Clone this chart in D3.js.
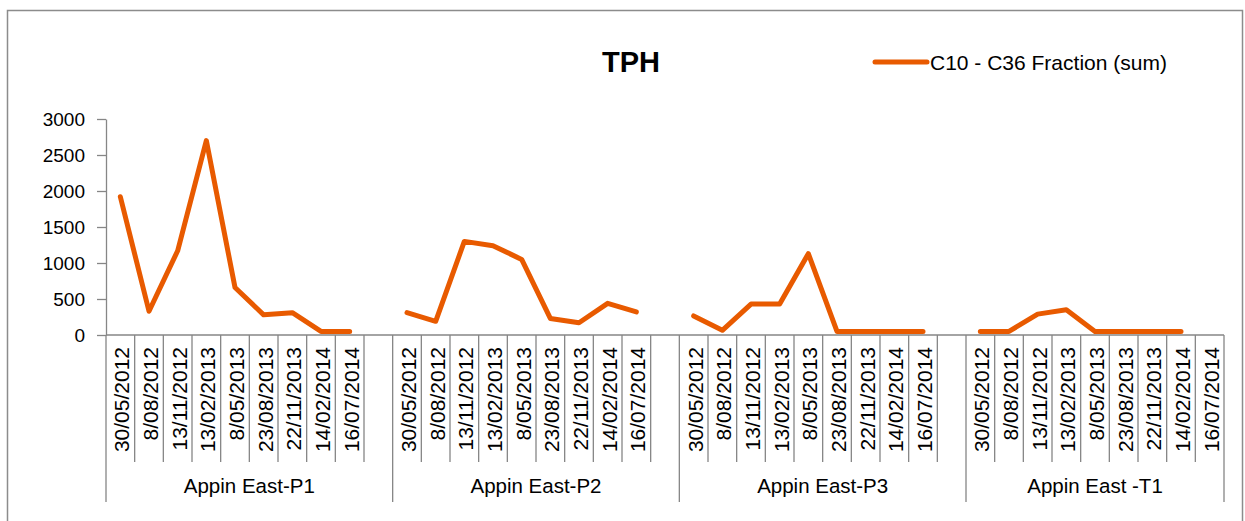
<!DOCTYPE html>
<html>
<head>
<meta charset="utf-8">
<script src="https://cdn.jsdelivr.net/npm/d3@7"></script>
<style>
  body { margin: 0; background: #fff; }
  svg { display: block; font-family: Arial, "Liberation Sans", sans-serif; }
</style>
</head>
<body>
<svg id="chart" width="1245" height="521"></svg>
<script>
// data
const dates = ["30/05/2012", "8/08/2012", "13/11/2012", "13/02/2013", "8/05/2013",
  "23/08/2013", "22/11/2013", "14/02/2014", "16/07/2014"];
const groups = ["Appin East-P1", "Appin East-P2", "Appin East-P3", "Appin East -T1"];
const p1Values = [1920, 330, 1170, 2700, 660, 280, 310, 50, 50];
const p2Values = [310, 190, 1300, 1240, 1050, 230, 170, 440, 320];
const p3Values = [265, 65, 430, 430, 1130, 50, 50, 50, 50];
const t1Values = [50, 50, 290, 350, 50, 50, 50, 50, null];
const yTicks = [0, 500, 1000, 1500, 2000, 2500, 3000];
const seriesName = "C10 - C36 Fraction (sum)";
const groupValues = [p1Values, p2Values, p3Values, t1Values];

const svg = d3.select("#chart");
const orange = "#e85a00";
const grey = "#868686";

// outer chart border
svg.append("rect")
  .attr("x", 7.5).attr("y", 10.5)
  .attr("width", 1235).attr("height", 530)
  .attr("fill", "none").attr("stroke", "#8c8c8c").attr("stroke-width", 1.5);

// category slots: 9 dates per group, a blank slot between groups
let slots = [];
groups.forEach((g, gi) => {
  dates.forEach(d => slots.push(g + "|" + d));
  if (gi < groups.length - 1) slots.push(g + "|blank");
});

const x = d3.scaleBand().domain(slots).range([106, 1224]).padding(0);
const y = d3.scaleLinear().domain([0, 3000]).range([335, 119]);

// y axis
const yAxis = svg.append("g")
  .attr("transform", "translate(106,0)")
  .call(d3.axisLeft(y).tickValues(yTicks).tickFormat(d3.format("d"))
    .tickSize(9).tickPadding(12).tickSizeOuter(0));
yAxis.select(".domain").attr("stroke", grey).attr("stroke-width", 1.3);
yAxis.selectAll(".tick line").attr("stroke", grey).attr("stroke-width", 1.3);
yAxis.selectAll(".tick text")
  .attr("font-size", 19).attr("fill", "#000")
  .attr("font-family", "Arial, 'Liberation Sans', sans-serif");

// x axis line
svg.append("line")
  .attr("x1", 106).attr("x2", 1224).attr("y1", 335).attr("y2", 335)
  .attr("stroke", grey).attr("stroke-width", 1.3);

// tick lines between slots, longer ones at group edges
const boundaries = slots.map(s => x(s)).concat([x.range()[1]]);
const groupEdges = groups.map(g => x(g + "|" + dates[0])).concat([x.range()[1]]);
svg.append("g").selectAll("line")
  .data(boundaries)
  .join("line")
  .attr("x1", d => d).attr("x2", d => d)
  .attr("y1", 335)
  .attr("y2", d => groupEdges.some(e => Math.abs(e - d) < 0.5) ? 502 : 462)
  .attr("stroke", grey).attr("stroke-width", 1.3);

// date labels (rotated)
const dateSlots = slots.filter(s => !s.endsWith("|blank"));
svg.append("g").selectAll("text")
  .data(dateSlots)
  .join("text")
  .attr("transform", d => `translate(${x(d) + x.bandwidth() / 2 + 9},347) rotate(-90)`)
  .attr("text-anchor", "end")
  .attr("font-size", 21)
  .text(d => d.split("|")[1]);

// group labels
svg.append("g").selectAll("text")
  .data(groups)
  .join("text")
  .attr("x", (g, i) => (groupEdges[i] + groupEdges[i + 1]) / 2)
  .attr("y", 493)
  .attr("text-anchor", "middle")
  .attr("font-size", 20.5)
  .text(g => g);

// one line per group
const line = d3.line()
  .defined(d => d.v != null)
  .x(d => x(d.key) + x.bandwidth() / 2)
  .y(d => y(d.v));

svg.append("g").selectAll("path")
  .data(groups.map((g, gi) => dates.map((d, di) => ({ key: g + "|" + d, v: groupValues[gi][di] }))))
  .join("path")
  .attr("fill", "none")
  .attr("stroke", orange)
  .attr("stroke-width", 5)
  .attr("stroke-linejoin", "round")
  .attr("stroke-linecap", "round")
  .attr("d", line);

// title
svg.append("text")
  .attr("x", 631).attr("y", 72)
  .attr("text-anchor", "middle")
  .attr("font-size", 29).attr("font-weight", "bold")
  .text("TPH");

// legend
svg.append("line")
  .attr("x1", 875).attr("x2", 927).attr("y1", 62).attr("y2", 62)
  .attr("stroke", orange).attr("stroke-width", 5).attr("stroke-linecap", "round");
svg.append("text")
  .attr("x", 930).attr("y", 70)
  .attr("font-size", 21)
  .text(seriesName);
</script>
</body>
</html>
